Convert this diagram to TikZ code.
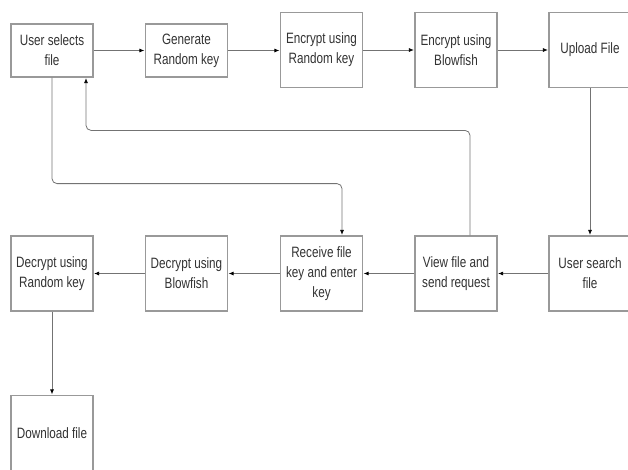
\documentclass[tikz,border=0pt]{standalone}
\usepackage{fontspec}
\setmainfont{Liberation Sans}[FakeStretch=0.78]
\usetikzlibrary{arrows.meta}
\tikzset{
	stepbox/.style={draw=black!40, line width=1.2pt, fill=white, minimum width=82pt, align=center,
		inner sep=2pt, font=\fontsize{15}{20}\selectfont, text=black!80},
	shortbox/.style={stepbox, minimum height=53pt},
	tallbox/.style={stepbox, minimum height=75pt},
	flow/.style={draw=black!55, line width=0.8pt, -{Latex[length=5pt,width=4pt,color=black]}, shorten >=0.5pt},
}

\begin{document}
\begin{tikzpicture}[x=1pt, y=-1pt]
		%%%%% START %%%%%
		\useasboundingbox (0, 0) rectangle (628, 469);
		
		% upper row
		\node[shortbox] (user) at (52, 50.5) {User selects\\file};
		\node[shortbox] (genkey) at (186.5, 50.5) {Generate\\Random key};
		\node[tallbox] (encrand) at (321.5, 50) {Encrypt using\\Random key};
		\node[tallbox] (encblow) at (456, 50) {Encrypt using\\Blowfish};
		\node[tallbox] (upload) at (590, 50) {Upload File};
		
		% lower row
		\node[tallbox] (search) at (590, 273.5) {User search\\file};
		\node[tallbox] (view) at (456, 273.5) {View file and\\send request};
		\node[tallbox] (receive) at (321.5, 273.5) {Receive file\\key and enter\\key};
		\node[tallbox] (decblow) at (186.5, 273.5) {Decrypt using\\Blowfish};
		\node[tallbox] (decrand) at (52, 273.5) {Decrypt using\\Random key};
		
		\node[tallbox] (download) at (52, 433) {Download file};
		
		\draw[flow] (user.east) -- (user.east -| genkey.west);
		\draw[flow] (genkey.east) -- (genkey.east -| encrand.west);
		\draw[flow] (encrand) -- (encblow);
		\draw[flow] (encblow) -- (upload);
		\draw[flow] (upload.south) -- (search.north);
		
		\draw[flow] (search) -- (view);
		\draw[flow] (view) -- (receive);
		\draw[flow] (receive) -- (decblow);
		\draw[flow] (decblow) -- (decrand);
		\draw[flow] (decrand.south) -- (download.north);
		
		\draw[flow, rounded corners=5pt] (user.south) -- ++(0, 106) -| ([xshift=20.5pt]receive.north);
		\draw[flow, rounded corners=5pt] ([xshift=14pt]view.north) -- ++(0, -105) -| ([xshift=34pt]user.south);
		
		%%%%% END %%%%%
\end{tikzpicture}
\end{document}
